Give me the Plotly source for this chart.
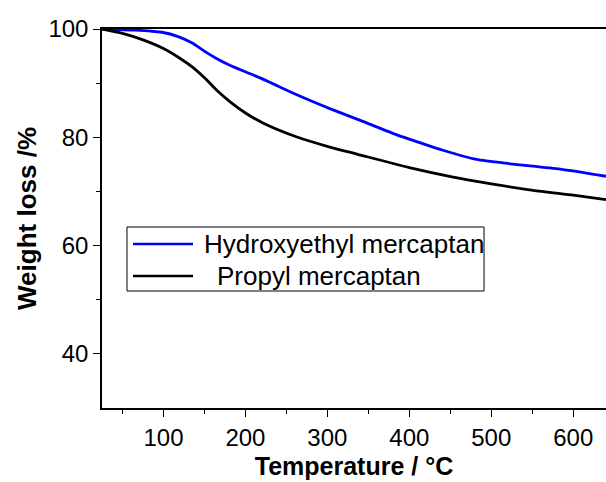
import plotly.graph_objects as go

temp_hydroxyethyl = [25, 65, 98, 118, 135, 148, 163, 181, 222, 262, 303, 344, 384, 413, 441, 482, 523, 584, 640]
weight_hydroxyethyl = [100, 99.8, 99.4, 98.6, 97.4, 96.1, 94.7, 93.3, 90.7, 87.9, 85.3, 82.9, 80.5, 79.0, 77.6, 75.9, 75.1, 74.1, 72.8]

temp_propyl = [25, 50, 75, 100, 120, 135, 150, 165, 181, 201, 222, 262, 303, 336, 400, 452, 500, 551, 600, 640]
weight_propyl = [100, 99.2, 98.0, 96.4, 94.6, 93.0, 91.0, 88.7, 86.6, 84.4, 82.6, 80.1, 78.2, 76.9, 74.4, 72.7, 71.4, 70.2, 69.3, 68.5]

series_names = ["Hydroxyethyl mercaptan", "Propyl mercaptan"]
series_colors = ["#0000FF", "#000000"]

x_ticks = [100, 200, 300, 400, 500, 600]
y_ticks = [40, 60, 80, 100]

fig = go.Figure()
fig.add_trace(go.Scatter(x=temp_hydroxyethyl, y=weight_hydroxyethyl, mode="lines",
                         name=series_names[0], line=dict(color=series_colors[0], width=2.8, shape="spline", smoothing=0.6)))
fig.add_trace(go.Scatter(x=temp_propyl, y=weight_propyl, mode="lines",
                         name=series_names[1], line=dict(color=series_colors[1], width=2.8, shape="spline", smoothing=0.6)))

font_family = "Liberation Sans, Arial, sans-serif"

# Hand-drawn legend box (paper coordinates)
shapes = [
    dict(type="rect", xref="paper", yref="paper", x0=0.0496, x1=0.758, y0=0.3087, y1=0.4776,
         line=dict(color="black", width=1), fillcolor="white", layer="above"),
]
legend_rows_y = [0.4327, 0.3483]
legend_text_x = [0.1984, 0.2242]
annotations = []
for i in range(2):
    shapes.append(dict(type="line", xref="paper", yref="paper", x0=0.0615, x1=0.1806,
                       y0=legend_rows_y[i], y1=legend_rows_y[i],
                       line=dict(color=series_colors[i], width=2.6), layer="above"))
    annotations.append(dict(xref="paper", yref="paper", x=legend_text_x[i], y=legend_rows_y[i],
                            xanchor="left", yanchor="middle", showarrow=False,
                            text=series_names[i], font=dict(size=26, family=font_family, color="black")))

fig.update_layout(
    width=606, height=482,
    margin=dict(l=102, r=0, t=29, b=74),
    paper_bgcolor="white", plot_bgcolor="white",
    font=dict(family=font_family, color="black", size=24),
    showlegend=False,
    shapes=shapes,
    annotations=annotations,
    xaxis=dict(range=[25, 640], tickvals=x_ticks, ticks="outside", ticklen=7, tickwidth=1,
               tickcolor="black", showline=True, linecolor="black", linewidth=1.5, mirror=True,
               showgrid=False, zeroline=False,
               minor=dict(tickvals=[50, 150, 250, 350, 450, 550], ticks="outside", ticklen=4, tickcolor="black"),
               tickfont=dict(size=24),
               title=dict(text="<b>Temperature / °C</b>", font=dict(size=25), standoff=8)),
    yaxis=dict(range=[30, 100], tickvals=y_ticks, ticks="outside", ticklen=7, tickwidth=1,
               tickcolor="black", showline=True, linecolor="black", linewidth=1.5,
               showgrid=False, zeroline=False,
               minor=dict(tickvals=[50, 70, 90], ticks="outside", ticklen=4, tickcolor="black"),
               tickfont=dict(size=24),
               title=dict(text="<b>Weight loss /%</b>", font=dict(size=26), standoff=4)),
)

fig.write_html("out.html")
